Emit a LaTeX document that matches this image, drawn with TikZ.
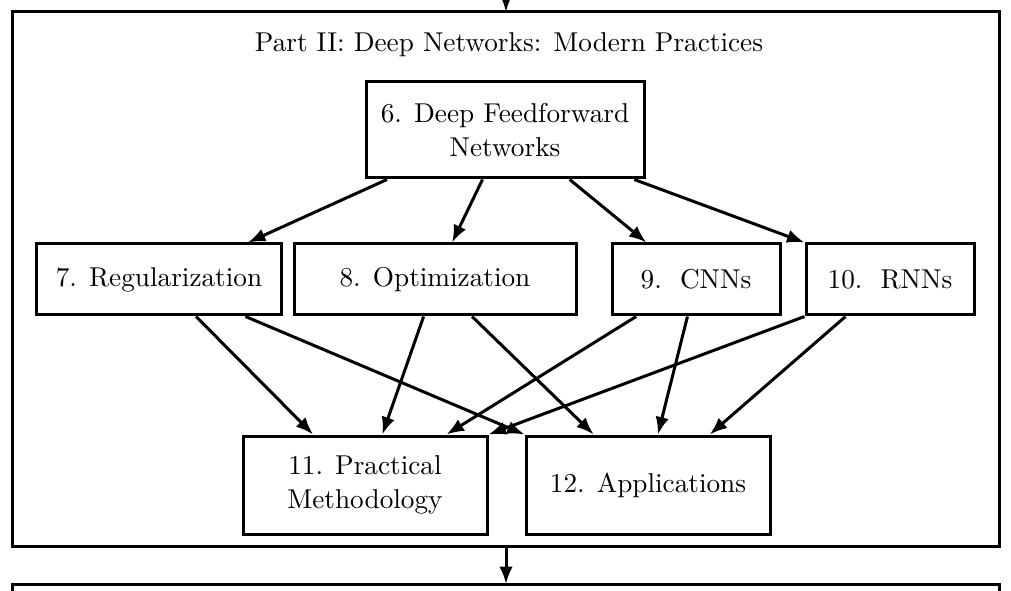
\documentclass[tikz,border=0pt]{standalone}
\usepackage{tikz}
\usetikzlibrary{calc,arrows.meta}
\tikzset{
	chap/.style={draw, line width=1.2pt, inner sep=0pt, align=center, font=\fontsize{10.9}{13.6}\selectfont},
	dep/.style={line width=1.2pt, -{Latex[length=7pt,width=5.4pt]}}
}

\begin{document}
\begin{tikzpicture}[x=0.4pt, y=-0.4pt]
			%%%%% START %%%%%
			\useasboundingbox (0, 0) rectangle (1011, 591);
			
			\draw[line width=1.2pt] (12, 12) rectangle (999, 546);
			\node[font=\fontsize{10.9}{13.6}\selectfont] (title) at (509, 45) {Part II: Deep Networks: Modern Practices};
			
			\draw[line width=1.2pt] (12, 584) rectangle (999, 640);
			
			\node[chap, minimum width=111.2pt, minimum height=38.4pt] (n6) at (505, 130) {6. Deep Feedforward\\Networks};
			
			\node[chap, minimum width=97.6pt, minimum height=28.4pt] (n7) at (159, 279.5) {7. Regularization};
			\node[chap, minimum width=112.8pt, minimum height=28.4pt] (n8) at (435, 279.5) {8. Optimization};
			\node[chap, minimum width=67.2pt, minimum height=28.4pt] (n9) at (696, 279.5) {9.~~CNNs};
			\node[chap, minimum width=67.2pt, minimum height=28.4pt] (n10) at (890, 279.5) {10.~~RNNs};
			
			\node[chap, minimum width=97.6pt, minimum height=39.2pt] (n11) at (365, 485) {11. Practical\\Methodology};
			\node[chap, minimum width=97.6pt, minimum height=39.2pt] (n12) at (648, 485) {12. Applications};
			
			\coordinate (top) at (506, -20);
			\draw[dep] (top) -- (506, 12);
			\draw[dep] (506, 546) -- (506, 584);
			
			\draw[dep] ($(n6.south west)!0.08!(n6.south east)$) -- ($(n7.north west)!0.86!(n7.north east)$);
			\draw[dep] ($(n6.south west)!0.42!(n6.south east)$) -- ($(n8.north west)!0.56!(n8.north east)$);
			\draw[dep] ($(n6.south west)!0.73!(n6.south east)$) -- ($(n9.north west)!0.21!(n9.north east)$);
			\draw[dep] ($(n6.south west)!0.96!(n6.south east)$) -- (n10.north west);
			
			\draw[dep] ($(n7.south west)!0.65!(n7.south east)$) -- ($(n11.north west)!0.29!(n11.north east)$);
			\draw[dep] ($(n7.south west)!0.85!(n7.south east)$) -- (n12.north west);
			\draw[dep] ($(n8.south west)!0.46!(n8.south east)$) -- ($(n11.north west)!0.57!(n11.north east)$);
			\draw[dep] ($(n8.south west)!0.63!(n8.south east)$) -- ($(n12.north west)!0.28!(n12.north east)$);
			\draw[dep] ($(n9.south west)!0.15!(n9.south east)$) -- ($(n11.north west)!0.83!(n11.north east)$);
			\draw[dep] ($(n9.south west)!0.45!(n9.south east)$) -- ($(n12.north west)!0.54!(n12.north east)$);
			\draw[dep] (n10.south west) -- (n11.north east);
			\draw[dep] ($(n10.south west)!0.24!(n10.south east)$) -- ($(n12.north west)!0.75!(n12.north east)$);
			
			%%%%% END %%%%%
\end{tikzpicture}
\end{document}
